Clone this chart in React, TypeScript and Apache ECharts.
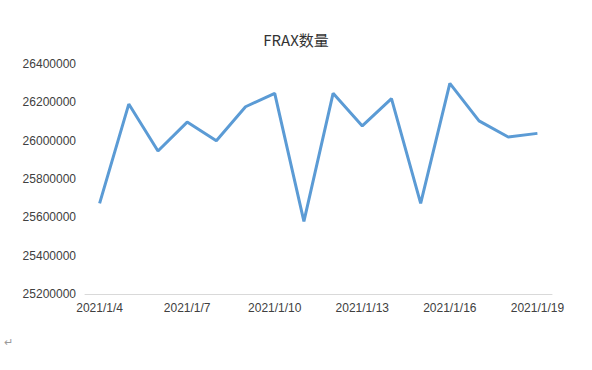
import React, { useEffect, useRef } from "react";
import * as echarts from "echarts";

const dates = [
  "2021/1/4", "2021/1/5", "2021/1/6", "2021/1/7", "2021/1/8", "2021/1/9",
  "2021/1/10", "2021/1/11", "2021/1/12", "2021/1/13", "2021/1/14", "2021/1/15",
  "2021/1/16", "2021/1/17", "2021/1/18", "2021/1/19",
];

const fraxAmount = [
  25673000, 26191000, 25946000, 26097000, 26000000, 26177000,
  26247000, 25579000, 26247000, 26077000, 26219000, 25673000,
  26299000, 26103000, 26019000, 26038000,
];

const title = "FRAX数量";

export default function App() {
  const ref = useRef<HTMLDivElement>(null);

  useEffect(() => {
    if (!ref.current) return;
    const chart = echarts.init(ref.current, undefined, { renderer: "svg" });
    const font = "Liberation Sans, Arial, sans-serif";
    chart.setOption({
      animation: false,
      backgroundColor: "#ffffff",
      title: {
        text: title,
        left: "center",
        top: 27,
        textStyle: {
          fontFamily: "Noto Sans CJK SC, Liberation Sans, sans-serif",
          fontSize: 15,
          fontWeight: "normal",
          color: "#333333",
        },
      },
      grid: { left: 85, right: 40, top: 64, bottom: 76 },
      xAxis: {
        type: "category",
        data: dates,
        boundaryGap: true,
        axisLine: { lineStyle: { color: "#d9d9d9", width: 1 } },
        axisTick: { interval: 2, length: 5, lineStyle: { color: "#d9d9d9" } },
        axisLabel: {
          interval: 2,
          margin: 8,
          fontFamily: font,
          fontSize: 12,
          color: "#404040",
        },
        splitLine: { show: false },
      },
      yAxis: {
        type: "value",
        min: 25200000,
        max: 26400000,
        interval: 200000,
        axisLine: { show: false },
        axisTick: { show: false },
        splitLine: { show: false },
        axisLabel: {
          margin: 9,
          fontFamily: font,
          fontSize: 12,
          color: "#404040",
          formatter: (v: number) => String(v),
        },
      },
      series: [
        {
          type: "line",
          data: fraxAmount,
          showSymbol: false,
          symbol: "none",
          lineStyle: { color: "#5b9bd5", width: 3 },
          itemStyle: { color: "#5b9bd5" },
        },
      ],
      graphic: [
        {
          type: "text",
          left: 4,
          top: 336,
          style: { text: "↵", fontSize: 11, fill: "#9a9a9a", fontFamily: font },
        },
      ],
    });
    return () => chart.dispose();
  }, []);

  return (
    <div
      ref={ref}
      style={{ position: "fixed", left: 0, top: 0, width: 592, height: 370 }}
    />
  );
}
